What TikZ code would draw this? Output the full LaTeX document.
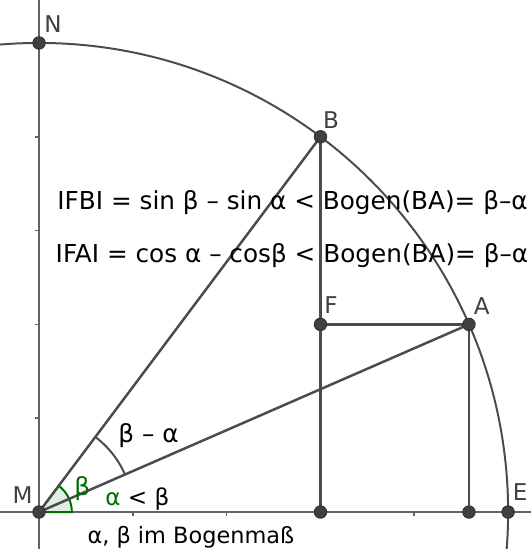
\documentclass[tikz,border=0pt]{standalone}
\usepackage{fontspec}
\setmainfont{DejaVu Sans}
\usetikzlibrary{calc}
\definecolor{kreisgrau}{RGB}{75,75,75}
\definecolor{achsgrau}{RGB}{100,100,100}
\definecolor{punktgrau}{RGB}{64,64,64}
\definecolor{winkelgruen}{RGB}{0,110,0}

\begin{document}
\begin{tikzpicture}[x=1cm,y=1cm,
    seg/.style={line width=0.75pt,kreisgrau},
    achse/.style={line width=0.5pt,achsgrau},
    dot/.style={fill=punktgrau,draw=black!80,line width=0.3pt},
    ptlabel/.style={text=punktgrau,font=\fontsize{7}{8}\selectfont,inner sep=0pt},
    formel/.style={font=\fontsize{7.5}{9}\selectfont,inner sep=0pt,anchor=west}]
  \useasboundingbox (-0.416,-0.394) rectangle (5.245,5.458);
  \clip (-0.416,-0.394) rectangle (5.245,5.458);
  % Punkte
  \coordinate (M) at (0,0);
  \coordinate (E) at (5,0);
  \coordinate (N) at (0,5);
  \coordinate (B) at (3,4);
  \coordinate (A) at ({sqrt(21)},2);
  \coordinate (F) at (3,2);
  \coordinate (Bx) at (3,0);
  \coordinate (Ax) at ({sqrt(21)},0);
  \coordinate (xl) at (-0.416,0);
  \coordinate (xr) at (5.245,0);
  \coordinate (yu) at (0,-0.394);
  \coordinate (yo) at (0,5.458);
  % Achsen
  \draw[achse] (xl) -- (xr);
  \draw[achse] (yu) -- (yo);
  \foreach \k in {1,2,3,4} {
    \draw[achse] (\k,0) -- (\k,-0.04);
    \draw[achse] (0,\k) -- (-0.04,\k);
  }
  % Einheitskreis
  \draw[line width=0.6pt,kreisgrau] (M) circle (5);
  % Winkel beta
  \filldraw[winkelgruen,fill=winkelgruen!12,line width=0.6pt]
    (M) -- ++(0:0.35) arc (0:53.13:0.35) -- cycle;
  % Strecken
  \draw[seg] (M) -- (B);
  \draw[seg] (M) -- (A);
  \draw[seg] (B) -- (F) -- (Bx);
  \draw[seg] (F) -- (A) -- (Ax);
  % Winkel beta - alpha
  \draw[line width=0.6pt,kreisgrau] (M) ++(23.58:1) arc (23.58:53.13:1);
  \foreach \p in {M,N,B,A,F,E,Bx,Ax}
    \filldraw[dot] (\p) circle (0.066);
  % Beschriftungen
  \node[ptlabel] (labN) at (0.149,5.205) {N};
  \node[ptlabel] (labB) at (3.113,4.179) {B};
  \node[ptlabel] (labA) at (4.72,2.196) {A};
  \node[ptlabel] (labF) at (3.113,2.207) {F};
  \node[ptlabel] (labE) at (5.128,0.213) {E};
  \node[ptlabel] (labM) at (-0.176,0.176) {M};
  \node[formel,text=winkelgruen] (labbeta) at (0.37,0.245) {β};
  \node[formel] (labba) at (0.84,0.82) {β – α};
  \node[formel,font=\fontsize{7}{8}\selectfont] (labal) at (0.70,0.139) {\textcolor{winkelgruen}{α} < β};
  \node[formel,font=\fontsize{6.8}{8}\selectfont] (labbog) at (0.51,-0.267) {α, β im Bogenmaß};
  \node[formel] (glFB) at (0.189,3.294) {IFBI = sin β – sin α < Bogen(BA)= β–α};
  \node[formel] (glFA) at (0.171,2.729) {IFAI = cos α – cosβ < Bogen(BA)= β–α};
\end{tikzpicture}
\end{document}
